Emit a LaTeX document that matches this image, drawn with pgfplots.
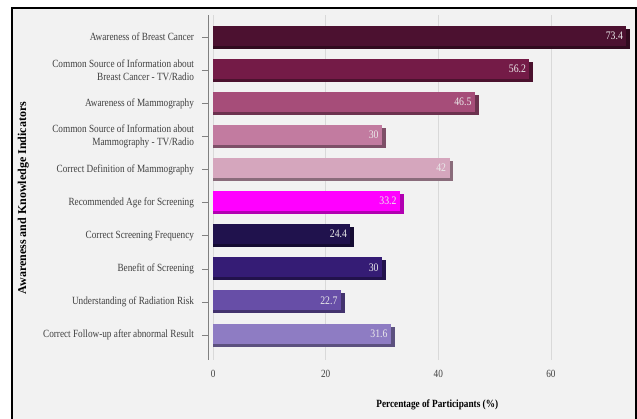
\documentclass[border=0pt]{standalone}
\usepackage{pgfplots}
\pgfplotsset{compat=1.18}
\usepackage{fontspec}
\setmainfont{Liberation Serif}
\definecolor{bgc}{HTML}{F2F2F2}
\definecolor{c1}{HTML}{4C1130}
\definecolor{c2}{HTML}{741B47}
\definecolor{c3}{HTML}{A64D79}
\definecolor{c4}{HTML}{C27BA0}
\definecolor{c5}{HTML}{D5A6BD}
\definecolor{c6}{HTML}{FF00FF}
\definecolor{c7}{HTML}{20124D}
\definecolor{c8}{HTML}{351C75}
\definecolor{c9}{HTML}{674EA7}
\definecolor{c10}{HTML}{8E7CC3}
\begin{document}
\begin{tikzpicture}
\path[use as bounding box, fill=white] (0,0) rectangle (637pt,419pt);
\fill[bgc, draw=black, line width=1.8pt] (12pt,-10pt) rectangle (636pt,411pt);
\begin{axis}[
  at={(208pt,59pt)}, anchor=south west,
  scale only axis, width=424.5pt, height=344.7pt,
  xmin=-0.9, xmax=74.5, ymin=-0.755, ymax=9.66,
  axis lines*=left,
  x axis line style={draw=none},
  y axis line style={draw=gray, line width=0.8pt},
  xtick={0,20,40,60},
  xmajorgrids, major grid style={draw=black!15, line width=0.6pt},
  xtick style={draw=none},
  ytick={0,...,9},
  yticklabels={{Correct Follow-up after abnormal Result},{Understanding of Radiation Risk},{Benefit of Screening},{Correct Screening Frequency},{Recommended Age for Screening},{Correct Definition of Mammography},{Common Source of Information about\\Mammography - TV/Radio},{Awareness of Mammography},{Common Source of Information about\\Breast Cancer - TV/Radio},{Awareness of Breast Cancer}},
  yticklabel style={align=right, font=\fontsize{11}{13.5}\selectfont, xscale=0.84, text=black!75, xshift=-6pt},
  xticklabel style={font=\fontsize{11}{13}\selectfont, xscale=0.84, text=black!75, yshift=-1pt},
  ytick style={draw=gray, line width=0.6pt},
  tick align=outside, major tick length=6pt,
  /pgf/number format/assume math mode=true,
  xlabel={\textbf{Percentage of Participants (\%)}},
  ylabel={\textbf{Awareness and Knowledge Indicators}},
  xlabel style={at={(axis description cs:0.54,-0.13)}, anchor=center, font=\fontsize{11}{13}\selectfont, xscale=0.84},
  ylabel style={at={(axis description cs:-0.435,0.47)}, anchor=center, font=\fontsize{12}{14}\selectfont},
  xbar, bar width=20pt,
  nodes near coords,
  nodes near coords style={font=\fontsize{11.5}{13}\selectfont, xscale=0.85, text=white!92!black},
  every node near coord/.append style={anchor=east, xshift=-0.5pt},
  clip=false,
]
% shadows
\pgfplotsset{shad/.style={draw=none, bar shift=-1.5pt, nodes near coords={}}}
\addplot[shad, fill=c1!65!black] coordinates {(74.1,9)};
\addplot[shad, fill=c2!65!black] coordinates {(56.9,8)};
\addplot[shad, fill=c3!65!black] coordinates {(47.2,7)};
\addplot[shad, fill=c4!65!black] coordinates {(30.7,6)};
\addplot[shad, fill=c5!65!black] coordinates {(42.7,5)};
\addplot[shad, fill=c6!70!black] coordinates {(33.9,4)};
\addplot[shad, fill=c7!65!black] coordinates {(25.1,3)};
\addplot[shad, fill=c8!65!black] coordinates {(30.7,2)};
\addplot[shad, fill=c9!65!black] coordinates {(23.4,1)};
\addplot[shad, fill=c10!65!black] coordinates {(32.3,0)};
% faces
\pgfplotsset{face/.style={draw=none, bar shift=1.5pt}}
\addplot[face, fill=c1] coordinates {(73.4,9)};
\addplot[face, fill=c2] coordinates {(56.2,8)};
\addplot[face, fill=c3] coordinates {(46.5,7)};
\addplot[face, fill=c4] coordinates {(30,6)};
\addplot[face, fill=c5] coordinates {(42,5)};
\addplot[face, fill=c6] coordinates {(33.2,4)};
\addplot[face, fill=c7] coordinates {(24.4,3)};
\addplot[face, fill=c8] coordinates {(30,2)};
\addplot[face, fill=c9] coordinates {(22.7,1)};
\addplot[face, fill=c10] coordinates {(31.6,0)};
\end{axis}
\end{tikzpicture}
\end{document}
